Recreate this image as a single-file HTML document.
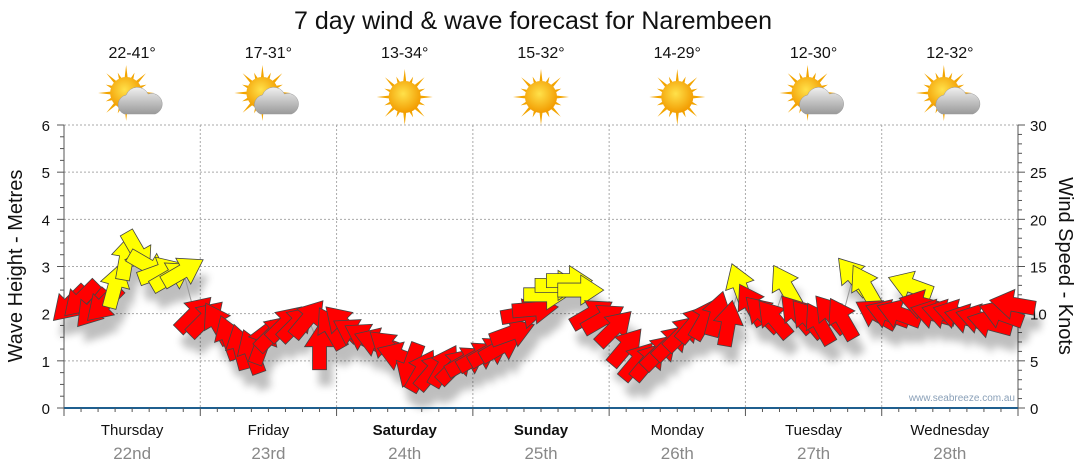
<!DOCTYPE html>
<html><head><meta charset="utf-8"><style>
body{margin:0;background:#fff;font-family:"Liberation Sans",Verdana,sans-serif}
svg{display:block}
</style></head><body>
<svg id="c" width="1080" height="475" viewBox="0 0 1080 475">
<defs>
<filter id="sh" x="-50%" y="-50%" width="200%" height="200%"><feGaussianBlur stdDeviation="4"/></filter>
<radialGradient id="sun" cx="45%" cy="40%" r="60%"><stop offset="0" stop-color="#ffe14a"/><stop offset="1" stop-color="#f29b00"/></radialGradient>
<linearGradient id="cloud" x1="0" y1="0" x2="0" y2="1"><stop offset="0" stop-color="#f0f0f0"/><stop offset="1" stop-color="#9a9a9a"/></linearGradient>
</defs>
<text x="533" y="29" font-size="25" text-anchor="middle" fill="#111">7 day wind &amp; wave forecast for Narembeen</text>
<g id="grid"></g>
<g id="axes"></g>
<g id="icons"></g>
<g id="shadows" filter="url(#sh)" opacity="0.25"></g>
<polyline id="line" fill="none" stroke="#999" stroke-width="1"/>
<g id="arrows"></g>
<text transform="translate(22,266) rotate(-90)" font-size="20" text-anchor="middle" fill="#111">Wave Height - Metres</text>
<text transform="translate(1059,266) rotate(90)" font-size="20" text-anchor="middle" fill="#111">Wind Speed - Knots</text>
<text x="1015" y="401" font-size="10" text-anchor="end" fill="#8aa0b8">www.seabreeze.com.au</text>
</svg>
<script>
const days=["Thursday","Friday","Saturday","Sunday","Monday","Tuesday","Wednesday"];
const dates=["22nd","23rd","24th","25th","26th","27th","28th"];
const temps=["22-41°","17-31°","13-34°","15-32°","14-29°","12-30°","12-32°"];
const cloudy=[1,1,0,0,0,1,1];
const leftTicks=[0,1,2,3,4,5,6];
const rightTicks=[0,5,10,15,20,25,30];
// wind every 2 hours
const windSpeed=[
11,11.5,10.5,11,13,16,16.5,15,14.5,14,14.5,10,
9.5,9,7.5,6.5,6,7,8,9,9,9.5,6.5,8.5,
9,8,7.5,7,6.5,5.5,4.5,4,4,4.5,4.5,5,
5.5,6,6.5,8,10,10.5,12,13,13.5,12.5,10,9.5,
8.5,6.5,5,5,6,7,8,9,9.5,10,9,13,
11,10,9.5,13,10,9.5,9,10,9.5,14,13,10,
10,10,13,11,10,10,10,9.5,9.5,9,10,11];
const windDir=[
225,225,220,225,15,10,150,120,70,60,60,45,
45,330,340,345,340,20,45,45,45,40,0,330,
315,300,300,290,310,290,200,30,40,30,45,60,
60,60,60,70,80,85,90,90,90,90,60,60,
45,40,40,40,45,45,45,40,30,15,10,340,
330,315,320,330,320,320,330,320,330,320,330,300,
290,290,290,285,285,285,285,285,285,285,290,280];
const X0=64,X1=1018,Y0=408,Y1=125,DAYW=(X1-X0)/7;
const xH=h=>X0+h*DAYW/24;
const yM=m=>Y0-m*(Y0-Y1)/6;
const yK=k=>Y0-k*(Y0-Y1)/30;
const NS="http://www.w3.org/2000/svg";
function mk(t,a,p){const e=document.createElementNS(NS,t);for(const k in a)e.setAttribute(k,a[k]);(p||document.getElementById('c')).appendChild(e);return e;}
const grid=document.getElementById('grid'),axes=document.getElementById('axes'),icons=document.getElementById('icons');
leftTicks.forEach(v=>{if(v>0){const g=mk('line',{x1:X0,x2:X1,y1:yM(v),y2:yM(v),stroke:'#aaa','stroke-dasharray':'2,2'},grid);}
 const t=mk('text',{x:50,y:yM(v)+6,'font-size':15,'text-anchor':'end',fill:'#111'},axes);t.textContent=v;
 });
for(let i=0;i<=24;i++){const y=yM(i/4);mk('line',{x1:X0-(i%4?4:7),x2:X0,y1:y,y2:y,stroke:'#555'},axes);}
rightTicks.forEach(v=>{const t=mk('text',{x:1030,y:yK(v)+6,'font-size':15,fill:'#111'},axes);t.textContent=v;
 });
for(let i=0;i<=30;i++){const y=yK(i);mk('line',{x1:X1,x2:X1+(i%5?4:7),y1:y,y2:y,stroke:'#555'},axes);}
mk('line',{x1:X0,x2:X0,y1:Y1,y2:Y0,stroke:'#555'},axes);
mk('line',{x1:X1,x2:X1,y1:Y1,y2:Y0,stroke:'#555'},axes);
mk('line',{x1:X0,x2:X1,y1:Y0,y2:Y0,stroke:'#1f5f8f','stroke-width':2},axes);
for(let h=0;h<=168;h+=3){const x=xH(h);mk('line',{x1:x,x2:x,y1:Y0,y2:Y0+(h%24?4:8),stroke:'#555'},axes);}
days.forEach((d,i)=>{const cx=X0+DAYW*(i+0.5);
 if(i>0){const g=mk('line',{x1:X0+DAYW*i,x2:X0+DAYW*i,y1:Y1,y2:Y0,stroke:'#aaa','stroke-dasharray':'2,2'},grid);}
 const t=mk('text',{x:cx,y:435,'font-size':15,'text-anchor':'middle',fill:'#111','font-weight':(i==2||i==3)?'bold':'normal'},axes);t.textContent=d;
 
 const t2=mk('text',{x:cx,y:459,'font-size':17,'text-anchor':'middle',fill:'#888'},axes);t2.textContent=dates[i];
 
 const t3=mk('text',{x:cx,y:58,'font-size':16,'text-anchor':'middle',fill:'#111'},icons);t3.textContent=temps[i];
 
 const g=mk('g',{transform:`translate(${cx},97)`},icons);
 
 const sx=cloudy[i]?-6:0,sy=cloudy[i]?-4:0;
 for(let a=0;a<16;a++){const r=a*Math.PI/8,l=a%2?22:28;
  mk('polygon',{points:`${sx+Math.cos(r-0.12)*14},${sy+Math.sin(r-0.12)*14} ${sx+Math.cos(r)*l},${sy+Math.sin(r)*l} ${sx+Math.cos(r+0.12)*14},${sy+Math.sin(r+0.12)*14}`,fill:'#f3a500'},g);}
 mk('circle',{cx:sx,cy:sy,r:16,fill:'url(#sun)'},g);
 if(cloudy[i]){mk('path',{d:'M-8,17 a10,10 0 0 1 2,-19 a12,12 0 0 1 22,-1 a9,9 0 0 1 7,20 z',fill:'url(#cloud)',stroke:'#999','stroke-width':0.5},g);}
});
const line=document.getElementById('line'),sh=document.getElementById('shadows'),ar=document.getElementById('arrows');
const P='M0,-23 L15,0 L7,0 L7,23 L-7,23 L-7,0 L-15,0 Z';
line.setAttribute('points',windSpeed.map((s,i)=>xH(i*2+1)+','+yK(s)).join(' '));

windSpeed.forEach((s,i)=>{const x=xH(i*2+1),y=yK(s),d=windDir[i];
 mk('path',{d:P,transform:`translate(${x+6},${y+16}) rotate(${d})`,fill:'#000'},sh);
 const a=mk('path',{d:P,transform:`translate(${x},${y}) rotate(${d})`,fill:s>=12?'#ffff00':'#ff0000',stroke:'#444','stroke-width':0.8},ar);
 
 
});
</script>
</body></html>
